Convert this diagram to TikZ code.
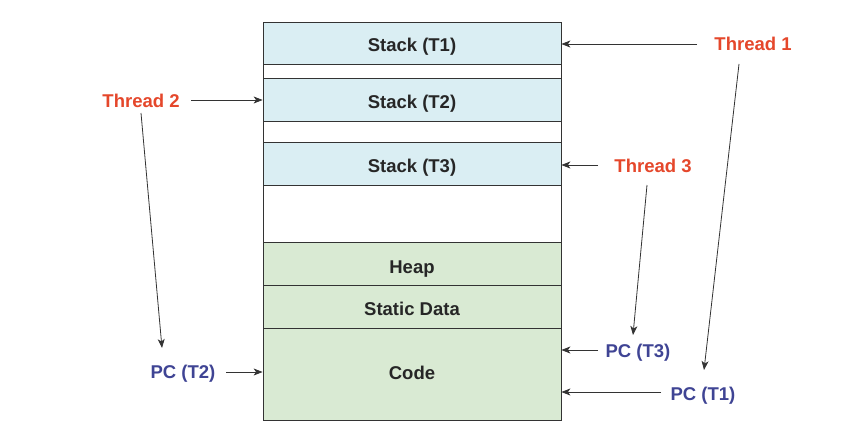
\documentclass[tikz,border=0pt]{standalone}
\usepackage{fontspec}
\setmainfont{Liberation Sans}
\usetikzlibrary{arrows.meta}
\definecolor{stackblue}{HTML}{DAEEF3}
\definecolor{segGreen}{HTML}{D9EAD3}
\definecolor{thrRed}{HTML}{E5472B}
\definecolor{pcBlue}{HTML}{3F4494}
\definecolor{lineGray}{HTML}{333333}
\begin{document}
\begin{tikzpicture}[x=1pt,y=-1pt,
  seg/.style={draw=lineGray,line width=0.8pt,minimum width=298pt,inner sep=0pt},
  segtext/.style={anchor=base,inner sep=0pt,font=\fontsize{18.5}{20}\selectfont\bfseries,text=black!85},
  thr/.style={anchor=base,font=\fontsize{18.5}{20}\selectfont\bfseries,text=thrRed,inner sep=1pt},
  pc/.style={anchor=base,font=\fontsize{18.5}{20}\selectfont\bfseries,text=pcBlue,inner sep=1pt},
  arr/.style={draw=lineGray,line width=0.8pt,-{Stealth[length=9pt,width=7pt,inset=2.5pt]}}]
\useasboundingbox (0,0) rectangle (858,433);
\fill[white] (0,0) rectangle (858,433);
% memory segments
\node[seg,fill=stackblue,minimum height=42pt] (s1) at (412,43) {};
\node[seg,fill=white,minimum height=14pt] (g1) at (412,71) {};
\node[seg,fill=stackblue,minimum height=43pt] (s2) at (412,99.5) {};
\node[seg,fill=white,minimum height=21pt] (g2) at (412,131.5) {};
\node[seg,fill=stackblue,minimum height=43pt] (s3) at (412,163.5) {};
\node[seg,fill=white,minimum height=57pt] (g3) at (412,213.5) {};
\node[seg,fill=segGreen,minimum height=43pt] (heap) at (412,263.5) {};
\node[seg,fill=segGreen,minimum height=43pt] (static) at (412,306.5) {};
\node[seg,fill=segGreen,minimum height=92pt] (code) at (412,374) {};
\node[segtext] (s1t) at (412,52) {Stack (T1)};
\node[segtext] (s2t) at (412,108) {Stack (T2)};
\node[segtext] (s3t) at (412,172) {Stack (T3)};
\node[segtext] (heapt) at (412,273) {Heap};
\node[segtext] (statict) at (412,315) {Static Data};
\node[segtext] (codet) at (412,379) {Code};
% labels
\node[thr] (t1) at (753,51) {Thread 1};
\node[thr] (t2) at (141,107) {Thread 2};
\node[thr] (t3) at (653,172) {Thread 3};
\node[pc] (p3) at (638,357) {PC (T3)};
\node[pc] (p1) at (703,400) {PC (T1)};
\node[pc] (p2) at (183,378) {PC (T2)};
% coordinates on box edges
\coordinate (s1r) at (s1.east |- 0,44);
\coordinate (s2l) at (s2.west |- 0,100);
\coordinate (s3r) at (s3.east |- 0,165);
\coordinate (c3r) at (code.east |- 0,350);
\coordinate (c1r) at (code.east |- 0,392);
\coordinate (c2l) at (code.west |- 0,372);
% horizontal arrows
\draw[arr] (697,44) -- (s1r);
\draw[arr] (191,100) -- (s2l);
\draw[arr] (598,165) -- (s3r);
\draw[arr] (598,350) -- (c3r);
\draw[arr] (661,392) -- (c1r);
\draw[arr] (226,372) -- (c2l);
% diagonal arrows
\draw[arr] (141,113) -- (162,348);
\draw[arr] (647,185) -- (633,335);
\draw[arr] (739,64) -- (704,370);
\end{tikzpicture}
\end{document}
